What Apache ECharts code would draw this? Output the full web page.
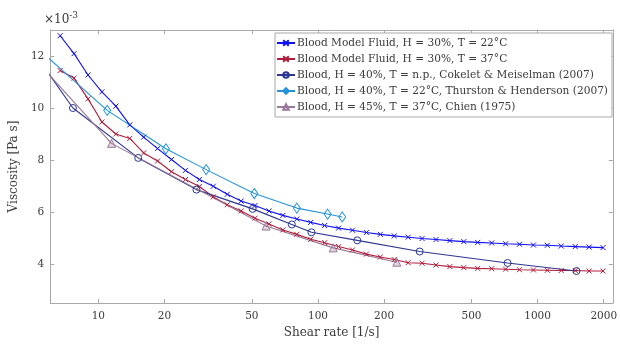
<!DOCTYPE html>
<html>
<head>
<meta charset="utf-8">
<script src="https://cdn.jsdelivr.net/npm/echarts@6/dist/echarts.min.js"></script>
<style>html,body{margin:0;padding:0;background:#fff;}#c{width:620px;height:344px;}</style>
</head>
<body>
<div id="c"></div>
<script>
// Viscosity values are in units of 1e-3 Pa s
const shearFluid = [6.70, 7.75, 8.97, 10.38, 12.01, 13.90, 16.08, 18.61, 21.53, 24.92, 28.83, 33.36, 38.60, 44.66, 51.68, 59.80, 69.20, 80.08, 92.65, 107.2, 124.1, 143.5, 166.1, 192.2, 222.4, 257.3, 297.8, 344.6, 398.6, 461.3, 533.8, 617.7, 714.8, 827.0, 957.0, 1107, 1281, 1483, 1716, 1986];
const viscFluid22 = [12.78, 12.09, 11.27, 10.62, 10.07, 9.35, 8.88, 8.44, 8.02, 7.60, 7.25, 6.99, 6.68, 6.42, 6.25, 6.04, 5.87, 5.73, 5.60, 5.48, 5.38, 5.30, 5.21, 5.14, 5.08, 5.03, 4.98, 4.94, 4.90, 4.86, 4.83, 4.81, 4.78, 4.76, 4.73, 4.72, 4.69, 4.67, 4.65, 4.63];
const viscFluid37 = [11.44, 11.15, 10.35, 9.46, 9.00, 8.83, 8.27, 7.96, 7.55, 7.25, 6.98, 6.58, 6.28, 6.04, 5.76, 5.54, 5.31, 5.14, 4.95, 4.82, 4.67, 4.54, 4.38, 4.27, 4.17, 4.05, 4.03, 3.96, 3.90, 3.86, 3.83, 3.82, 3.80, 3.78, 3.77, 3.76, 3.75, 3.75, 3.73, 3.73];
const shearCokelet = [5.0, 7.66, 15.19, 27.96, 50.4, 76.0, 93.4, 150.9, 290.4, 729.8, 1503];
const viscCokelet = [12.22, 10.0, 8.08, 6.86, 6.12, 5.52, 5.22, 4.91, 4.48, 4.04, 3.73];
const shearThurston = [5.0, 10.97, 20.3, 30.95, 51.3, 80.1, 110.6, 128.9];
const viscThurston = [12.48, 9.91, 8.43, 7.63, 6.71, 6.15, 5.92, 5.81];
const shearChien = [5.75, 11.48, 58.0, 117.2, 228.5];
const viscChien = [11.43, 8.64, 5.46, 4.62, 4.07];
const xTicks = [10, 20, 50, 100, 200, 500, 1000, 2000];
const yTicks = [4, 6, 8, 10, 12];
const seriesNames = [
  'Blood Model Fluid, H = 30%, T = 22°C',
  'Blood Model Fluid, H = 30%, T = 37°C',
  'Blood, H = 40%, T = n.p., Cokelet & Meiselman (2007)',
  'Blood, H = 40%, T = 22°C, Thurston & Henderson (2007)',
  'Blood, H = 45%, T = 37°C, Chien (1975)'
];

const FONT = 'DejaVu Serif';
const AXC = '#a8a8a8';
const TXT = '#3a3a3a';
const XMIN = 6.04, XMAX = 2200, YMIN = 2.5, YMAX = 13;
const zip = (a, b) => a.map((v, i) => [v, b[i]]);
const xPath = 'path://M0,0L10,10M10,0L0,10';

function xAx(pos, showLabel) {
  return {
    type: 'log', logBase: 10, position: pos, min: XMIN, max: XMAX,
    axisLine: {show: true, onZero: false, lineStyle: {color: AXC, width: 1}},
    axisTick: {show: true, inside: true, length: 4, customValues: xTicks, lineStyle: {color: AXC}},
    minorTick: {show: false}, splitLine: {show: false}, minorSplitLine: {show: false},
    axisLabel: {show: showLabel, customValues: xTicks, margin: 8, color: TXT, fontFamily: FONT, fontSize: 10.5,
      formatter: v => String(Math.round(v))},
    name: showLabel ? 'Shear rate [1/s]' : '', nameLocation: 'middle', nameGap: 19,
    nameTextStyle: {color: TXT, fontFamily: FONT, fontSize: 12}
  };
}
function yAx(pos, showLabel) {
  return {
    type: 'value', position: pos, min: YMIN, max: YMAX,
    axisLine: {show: true, onZero: false, lineStyle: {color: AXC, width: 1}},
    axisTick: {show: true, inside: true, length: 4, customValues: yTicks, lineStyle: {color: AXC}},
    splitLine: {show: false},
    axisLabel: {show: showLabel, customValues: yTicks, margin: 6, color: TXT, fontFamily: FONT, fontSize: 10.5},
    name: showLabel ? 'Viscosity [Pa s]' : '', nameLocation: 'middle', nameGap: 20, nameRotate: 90,
    nameTextStyle: {color: TXT, fontFamily: FONT, fontSize: 12}
  };
}
function mk(name, data, color, symbol, size, fill) {
  return {
    name, type: 'line', data, xAxisIndex: 0, yAxisIndex: 0,
    symbol: symbol, symbolSize: size, showAllSymbol: true,
    clip: true, animation: false,
    lineStyle: {color, width: 1.1},
    itemStyle: {color: fill || 'rgba(0,0,0,0)', borderColor: color, borderWidth: 1}
  };
}

const chart = echarts.init(document.getElementById('c'), null, {renderer: 'canvas'});
chart.setOption({
  backgroundColor: '#fff',
  animation: false,
  grid: {left: 44, right: 3, top: 30, bottom: 41, containLabel: false},
  xAxis: [xAx('bottom', true), xAx('top', false)],
  yAxis: [yAx('left', true), yAx('right', false)],
  legend: {
    orient: 'vertical', left: 275, top: 33,
    backgroundColor: '#fff', borderColor: AXC, borderWidth: 1, borderRadius: 0,
    padding: [3, 4, 3, 1], itemGap: 2, itemWidth: 18, itemHeight: 7,
    textStyle: {color: TXT, fontFamily: FONT, fontSize: 10.6, lineHeight: 14, padding: [0, 0, 0, -3]},
    data: seriesNames
  },
  graphic: [{
    type: 'text', left: 44, top: 11,
    style: {
      text: '{a|×10}{b|-3}', fill: TXT,
      rich: {a: {fontFamily: FONT, fontSize: 12, fill: TXT}, b: {fontFamily: FONT, fontSize: 9, fill: TXT, verticalAlign: 'top', padding: [0, 0, 8, 0]}}
    }
  }],
  series: [
    mk(seriesNames[0], zip(shearFluid, viscFluid22), '#1010f5', xPath, 5),
    mk(seriesNames[1], zip(shearFluid, viscFluid37), '#b01c3c', xPath, 5),
    mk(seriesNames[2], zip(shearCokelet, viscCokelet), '#2d3690', 'circle', 7),
    mk(seriesNames[3], zip(shearThurston, viscThurston), '#2293d6', 'diamond', [7, 10]),
    mk(seriesNames[4], zip(shearChien, viscChien), '#9a7a98', 'triangle', 8, 'rgba(154,122,152,0.3)')
  ]
});
</script>
</body>
</html>
